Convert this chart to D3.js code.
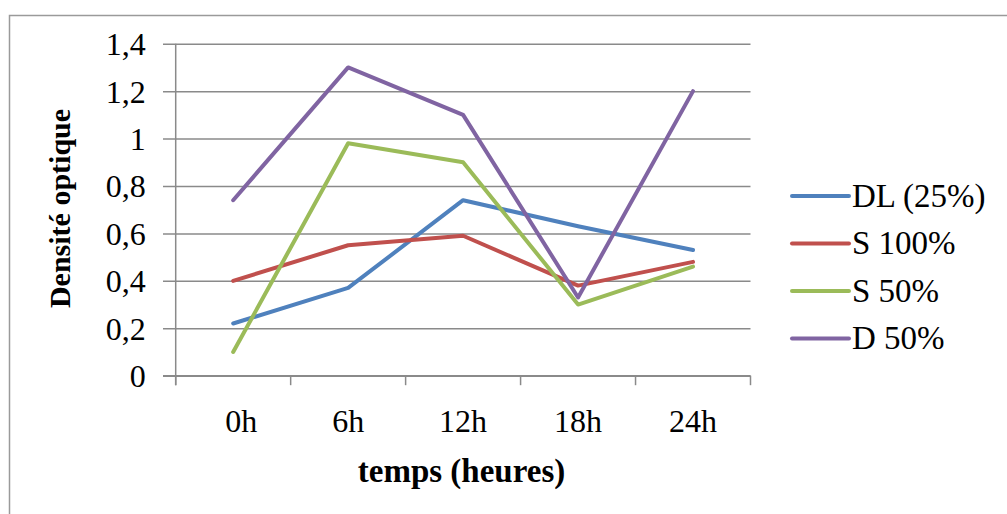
<!DOCTYPE html>
<html>
<head>
<meta charset="utf-8">
<script src="https://cdn.jsdelivr.net/npm/d3@7"></script>
<style>
  html, body { margin: 0; padding: 0; background: #ffffff; }
  svg { display: block; }
  text { font-family: "Liberation Serif", "Times New Roman", serif; fill: #000; }
</style>
</head>
<body>
<svg id="chart" width="1007" height="514"></svg>
<script>
// Optical density over time for four culture conditions
const categories = ["0h", "6h", "12h", "18h", "24h"];
const xTickLabels = ["\u00a0\u00a00h", "6h", "12h", "18h", "24h"];
const seriesNames = ["DL (25%)", "S 100%", "S 50%", "D 50%"];
const dl25   = [0.22, 0.37, 0.74, 0.63, 0.53];
const s100   = [0.40, 0.55, 0.59, 0.38, 0.48];
const s50    = [0.10, 0.98, 0.90, 0.30, 0.46];
const d50    = [0.74, 1.30, 1.10, 0.33, 1.20];
const yTicks = [0, 0.2, 0.4, 0.6, 0.8, 1, 1.2, 1.4];
const yTickLabels = ["0", "0,2", "0,4", "0,6", "0,8", "1", "1,2", "1,4"];
const colors = ["#4f81bd", "#c0504d", "#9bbb59", "#8064a2"];
const yTitle = "Densité optique";
const xTitle = "temps (heures)";

const seriesValues = [dl25, s100, s50, d50];

const svg = d3.select("#chart");
const gridColor = "#8a8a8a";

// outer chart frame
svg.append("rect")
  .attr("x", 9.5).attr("y", 15.5)
  .attr("width", 1010).attr("height", 520)
  .attr("fill", "#fff")
  .attr("stroke", "#9a9a9a")
  .attr("stroke-width", 1.5);

const plot = { left: 175.7, right: 750.5, top: 43.7, bottom: 375.7 };

const x = d3.scaleBand().domain(categories).range([plot.left, plot.right]).padding(0);
const y = d3.scaleLinear().domain([0, 1.4]).range([plot.bottom, plot.top]);
const cx = c => x(c) + x.bandwidth() / 2;

// horizontal gridlines with left tick marks
const yAxis = d3.axisLeft(y)
  .tickValues(yTicks)
  .tickSize(-(plot.right - plot.left))
  .tickFormat((d, i) => yTickLabels[i]);

const gy = svg.append("g")
  .attr("transform", `translate(${plot.left},0)`)
  .call(yAxis);
gy.select(".domain").remove();
gy.selectAll(".tick line")
  .attr("x1", -12.7)
  .attr("stroke", gridColor)
  .attr("stroke-width", 1.5);
gy.selectAll(".tick text")
  .attr("x", -30)
  .attr("dy", "0.34em")
  .style("font-size", "32px")
  .style("font-family", "'Liberation Serif', serif");

// vertical axis line
svg.append("line")
  .attr("x1", plot.left).attr("x2", plot.left)
  .attr("y1", plot.top).attr("y2", plot.bottom + 9.5)
  .attr("stroke", gridColor).attr("stroke-width", 1.5);

// category axis with tick marks between categories
const bounds = categories.map(c => x(c)).concat([plot.right]);
const gx = svg.append("g");
gx.append("line")
  .attr("x1", plot.left - 12.7).attr("x2", plot.right)
  .attr("y1", plot.bottom).attr("y2", plot.bottom)
  .attr("stroke", gridColor).attr("stroke-width", 1.5);
gx.selectAll("line.tk")
  .data(bounds)
  .join("line")
  .attr("class", "tk")
  .attr("x1", d => d).attr("x2", d => d)
  .attr("y1", plot.bottom).attr("y2", plot.bottom + 9.5)
  .attr("stroke", gridColor).attr("stroke-width", 1.5);
gx.selectAll("text")
  .data(categories)
  .join("text")
  .attr("x", d => cx(d))
  .attr("y", 432)
  .attr("text-anchor", "middle")
  .style("font-size", "32px")
  .text((d, i) => xTickLabels[i]);

// series lines
const line = d3.line()
  .x((d, i) => cx(categories[i]))
  .y(d => y(d));

svg.append("g")
  .selectAll("path")
  .data(seriesValues)
  .join("path")
  .attr("d", d => line(d))
  .attr("fill", "none")
  .attr("stroke", (d, i) => colors[i])
  .attr("stroke-width", 4)
  .attr("stroke-linejoin", "round")
  .attr("stroke-linecap", "round");

// legend
const legendRows = [196, 243.5, 291, 338.5];
const lg = svg.append("g")
  .selectAll("g")
  .data(seriesNames)
  .join("g")
  .attr("transform", (d, i) => `translate(0,${legendRows[i]})`);
lg.append("line")
  .attr("x1", 792).attr("x2", 849)
  .attr("y1", 0).attr("y2", 0)
  .attr("stroke", (d, i) => colors[i])
  .attr("stroke-width", 4)
  .attr("stroke-linecap", "round");
lg.append("text")
  .attr("x", 852)
  .attr("y", 10.5)
  .style("font-size", "33px")
  .text(d => d);

// axis titles
svg.append("text")
  .attr("transform", "translate(70,208.5) rotate(-90)")
  .attr("text-anchor", "middle")
  .style("font-size", "30px")
  .style("font-weight", "bold")
  .text(yTitle);

svg.append("text")
  .attr("x", 461.5)
  .attr("y", 482)
  .attr("text-anchor", "middle")
  .style("font-size", "33px")
  .style("font-weight", "bold")
  .text(xTitle);
</script>
</body>
</html>
